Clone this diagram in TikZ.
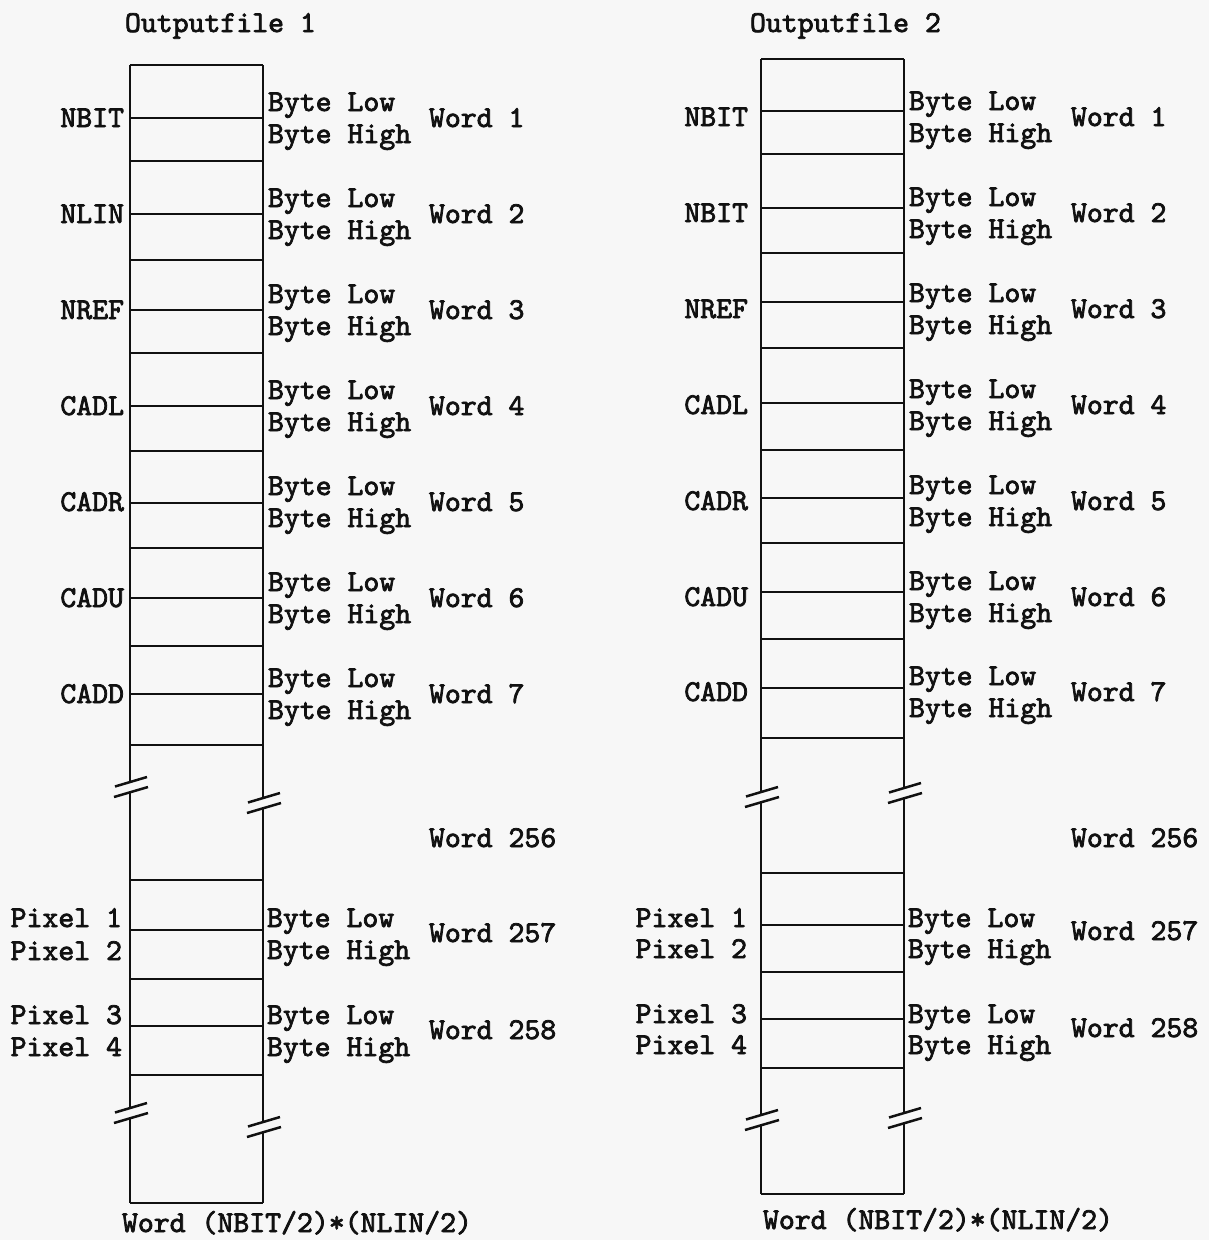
\documentclass[tikz,border=0pt]{standalone}
\usepackage{fontspec}
\newfontfamily\twfont{lmmono10-regular.otf}[FakeBold=2.5]
\definecolor{bg}{HTML}{F7F7F7}
\definecolor{ink}{HTML}{111111}
\newcommand{\brkmark}[2]{%
  \draw[brkline] (#1-15,#2-5+4.5) -- (#1+17,#2-5-5);
  \draw[brkline] (#1-16,#2+5+5) -- (#1+18,#2+5-5);}
\begin{document}
\begin{tikzpicture}[x=1pt,y=-1pt,line width=2.1pt,draw=ink,
  txt/.style={font=\twfont\fontsize{30.3}{36}\selectfont,inner sep=0pt,outer sep=0pt,text=ink},
  lblE/.style={txt,anchor=base east},
  lblW/.style={txt,anchor=base west},
  rowline/.style={line width=2.1pt,draw=ink},
  brkline/.style={line width=2.5pt,draw=ink}]
\fill[bg] (0,0) rectangle (1209,1240);
\useasboundingbox (0,0) rectangle (1209,1240);

% ---------------- Outputfile 1 ----------------
\node[lblW] (t1) at (125,32) {Outputfile 1};
% box outline
\draw[rowline] (130,65) -- (263,65);
\draw[rowline] (130,1203) -- (263,1203);
\draw[rowline] (130,65) -- (130,782);
\draw[rowline] (130,792) -- (130,1108);
\draw[rowline] (130,1118) -- (130,1203);
\draw[rowline] (263,65) -- (263,798);
\draw[rowline] (263,808) -- (263,1122);
\draw[rowline] (263,1132) -- (263,1203);
\brkmark{130}{787}
\brkmark{263}{803}
\brkmark{130}{1113}
\brkmark{263}{1127}
\foreach \s in {161,260,353,451,548,646,745,880,979,1075}
  \draw[rowline] (130,\s) -- (263,\s);
\foreach \m in {118,214,310,406,503,598,694,930,1026}
  \draw[rowline] (130,\m) -- (263,\m);
\foreach \c/\lab/\n in {118/NBIT/1,214/NLIN/2,310/NREF/3,406/CADL/4,502/CADR/5,598/CADU/6,694/CADD/7}{
  \node[lblE] (La\n) at (124,\c+9) {\lab};
  \node[lblW] (Lbl\n) at (268,\c-7) {Byte Low};
  \node[lblW] (Lbh\n) at (268,\c+25) {Byte High};
  \node[lblW] (Lw\n) at (429,\c+9) {Word \n};
}
\node[lblW] (Lw256) at (429,847) {Word 256};
\node[lblE] (Lp1) at (122,927) {Pixel 1};
\node[lblE] (Lp2) at (122,960) {Pixel 2};
\node[lblW] (Lbl257) at (267,927) {Byte Low};
\node[lblW] (Lbh257) at (267,959) {Byte High};
\node[lblW] (Lw257) at (429,942) {Word 257};
\node[lblE] (Lp3) at (122,1024) {Pixel 3};
\node[lblE] (Lp4) at (122,1056) {Pixel 4};
\node[lblW] (Lbl258) at (267,1024) {Byte Low};
\node[lblW] (Lbh258) at (267,1056) {Byte High};
\node[lblW] (Lw258) at (429,1039) {Word 258};
\node[lblW] (Lend) at (122,1232) {Word (NBIT/2)*(NLIN/2)};

% ---------------- Outputfile 2 ----------------
\node[lblW] (t2) at (750,32) {Outputfile 2};
\draw[rowline] (761,59) -- (904,59);
\draw[rowline] (761,1194) -- (904,1194);
\draw[rowline] (761,59) -- (761,792);
\draw[rowline] (761,802) -- (761,1115);
\draw[rowline] (761,1125) -- (761,1194);
\draw[rowline] (904,59) -- (904,788);
\draw[rowline] (904,798) -- (904,1113);
\draw[rowline] (904,1123) -- (904,1194);
\brkmark{761}{797}
\brkmark{904}{793}
\brkmark{761}{1120}
\brkmark{904}{1118}
\foreach \s in {154,253,348,450,543,639,738,873,972,1068}
  \draw[rowline] (761,\s) -- (904,\s);
\foreach \m in {111,208,302,403,498,592,688,925,1019}
  \draw[rowline] (761,\m) -- (904,\m);
\foreach \c/\lab/\n in {117/NBIT/1,213/NBIT/2,309/NREF/3,405/CADL/4,501/CADR/5,597/CADU/6,692/CADD/7}{
  \node[lblE] (Ra\n) at (748,\c+9) {\lab};
  \node[lblW] (Rbl\n) at (909,\c-7) {Byte Low};
  \node[lblW] (Rbh\n) at (909,\c+25) {Byte High};
  \node[lblW] (Rw\n) at (1071,\c+9) {Word \n};
}
\node[lblW] (Rw256) at (1071,847) {Word 256};
\node[lblE] (Rp1) at (747,927) {Pixel 1};
\node[lblE] (Rp2) at (747,958) {Pixel 2};
\node[lblW] (Rbl257) at (908,927) {Byte Low};
\node[lblW] (Rbh257) at (908,958) {Byte High};
\node[lblW] (Rw257) at (1071,940) {Word 257};
\node[lblE] (Rp3) at (747,1023) {Pixel 3};
\node[lblE] (Rp4) at (747,1054) {Pixel 4};
\node[lblW] (Rbl258) at (908,1023) {Byte Low};
\node[lblW] (Rbh258) at (908,1054) {Byte High};
\node[lblW] (Rw258) at (1071,1037) {Word 258};
\node[lblW] (Rend) at (763,1229) {Word (NBIT/2)*(NLIN/2)};
\end{tikzpicture}
\end{document}
